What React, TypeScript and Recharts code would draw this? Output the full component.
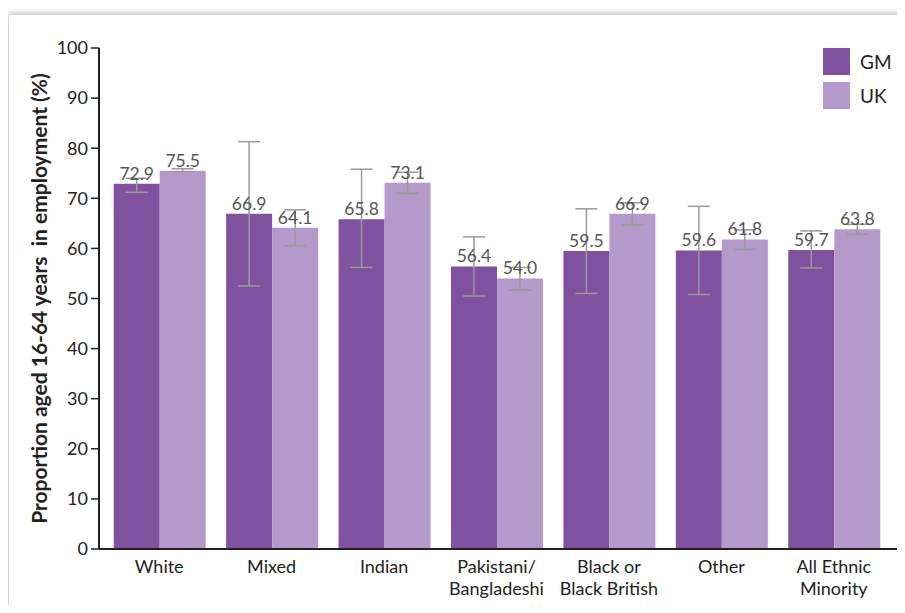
import React from 'react';
import { BarChart, Bar, XAxis, YAxis, ErrorBar, LabelList, Legend } from 'recharts';

// Employment rate (16-64) by ethnic group, Greater Manchester vs UK
const categories = [
  'White',
  'Mixed',
  'Indian',
  'Pakistani/\nBangladeshi',
  'Black or\nBlack British',
  'Other',
  'All Ethnic\nMinority',
];
const gmValues = [72.9, 66.9, 65.8, 56.4, 59.5, 59.6, 59.7];
const ukValues = [75.5, 64.1, 73.1, 54.0, 66.9, 61.8, 63.8];
// 95% confidence interval bounds
const gmLow = [71.2, 52.5, 56.2, 50.5, 51.0, 50.8, 56.1];
const gmHigh = [74.0, 81.3, 75.8, 62.3, 67.9, 68.4, 63.5];
const ukLow = [75.3, 60.5, 71.0, 51.7, 64.7, 59.8, 62.8];
const ukHigh = [75.9, 67.7, 75.2, 56.2, 69.1, 63.7, 64.8];
const yTicks = [0, 10, 20, 30, 40, 50, 60, 70, 80, 90, 100];

const GM_COLOR = '#7f519f';
const UK_COLOR = '#b49aca';
const FONT = 'Lato, "Open Sans", sans-serif';

const data = categories.map((name, i) => ({
  name,
  GM: gmValues[i],
  UK: ukValues[i],
  gmErr: [
    +(gmValues[i] - gmLow[i]).toFixed(2),
    +(gmHigh[i] - gmValues[i]).toFixed(2),
  ],
  ukErr: [
    +(ukValues[i] - ukLow[i]).toFixed(2),
    +(ukHigh[i] - ukValues[i]).toFixed(2),
  ],
}));

const CategoryTick = (props: any) => {
  const { x, y, payload } = props;
  const lines = String(payload.value).split('\n');
  return (
    <text
      x={x}
      y={y + 16}
      textAnchor="middle"
      fill="#222"
      fontSize={18}
      fontFamily={FONT}
    >
      {lines.map((line: string, i: number) => (
        <tspan key={i} x={x} dy={i === 0 ? 0 : 22}>
          {line}
        </tspan>
      ))}
    </text>
  );
};

const YTitle = (props: any) => {
  const { viewBox } = props;
  const cx = viewBox.x + 38;
  const cy = viewBox.y + viewBox.height / 2;
  return (
    <text
      x={cx}
      y={cy}
      transform={`rotate(-90, ${cx}, ${cy})`}
      textAnchor="middle"
      dominantBaseline="central"
      fontSize={21}
      fontWeight={700}
      fill="#222"
      fontFamily={FONT}
      style={{ whiteSpace: 'pre' }}
    >
      Proportion aged 16-64 years  in employment (%)
    </text>
  );
};

const LegendBox = (props: any) => {
  const { payload } = props;
  return (
    <div style={{ fontFamily: FONT }}>
      {payload.map((entry: any) => (
        <div
          key={entry.value}
          style={{ display: 'flex', alignItems: 'center', height: 27, marginBottom: 7 }}
        >
          <div style={{ width: 27, height: 27, background: entry.color }} />
          <span style={{ marginLeft: 10, fontSize: 19, color: '#222' }}>{entry.value}</span>
        </div>
      ))}
    </div>
  );
};

export default function App() {
  return (
    <div
      style={{
        position: 'relative',
        width: 905,
        height: 613,
        margin: -8,
        overflow: 'hidden',
        background: '#ffffff',
      }}
    >
      <div
        style={{
          position: 'absolute',
          left: 9,
          top: 15,
          width: 940,
          height: 640,
          background: '#ffffff',
          boxShadow: '0 0 7px 1px rgba(0,0,0,0.32)',
        }}
      />
      <div style={{ position: 'absolute', left: 0, top: 0 }}>
        <BarChart
          width={905}
          height={613}
          data={data}
          margin={{ top: 48, right: 0, left: 0, bottom: 0 }}
          barCategoryGap={10.7}
          barGap={0}
        >
          <XAxis
            dataKey="name"
            height={64}
            padding={{ left: 4, right: 15 }}
            axisLine={{ stroke: '#222', strokeWidth: 2 }}
            tickLine={false}
            tick={<CategoryTick />}
            interval={0}
          />
          <YAxis
            width={99}
            domain={[0, 100]}
            ticks={yTicks}
            interval={0}
            axisLine={{ stroke: '#222', strokeWidth: 2 }}
            tickLine={{ stroke: '#222', strokeWidth: 1.5 }}
            tickSize={8}
            tickMargin={3}
            tick={{ fill: '#222', fontSize: 18, fontFamily: FONT }}
            label={<YTitle />}
          />
          <Legend
            layout="horizontal"
            verticalAlign="middle"
            align="center"
            content={<LegendBox />}
            wrapperStyle={{ left: 823, top: 48, width: 80 }}
          />
          <Bar dataKey="GM" name="GM" fill={GM_COLOR} isAnimationActive={false}>
            <ErrorBar dataKey="gmErr" width={11} stroke="#9a9a9a" strokeWidth={1.5} />
            <LabelList
              dataKey="GM"
              position="top"
              offset={4}
              fill="#555"
              fontSize={17.5}
              fontFamily={FONT}
              formatter={(v: any) => Number(v).toFixed(1)}
            />
          </Bar>
          <Bar dataKey="UK" name="UK" fill={UK_COLOR} isAnimationActive={false}>
            <ErrorBar dataKey="ukErr" width={11} stroke="#9a9a9a" strokeWidth={1.5} />
            <LabelList
              dataKey="UK"
              position="top"
              offset={4}
              fill="#555"
              fontSize={17.5}
              fontFamily={FONT}
              formatter={(v: any) => Number(v).toFixed(1)}
            />
          </Bar>
        </BarChart>
      </div>
    </div>
  );
}
